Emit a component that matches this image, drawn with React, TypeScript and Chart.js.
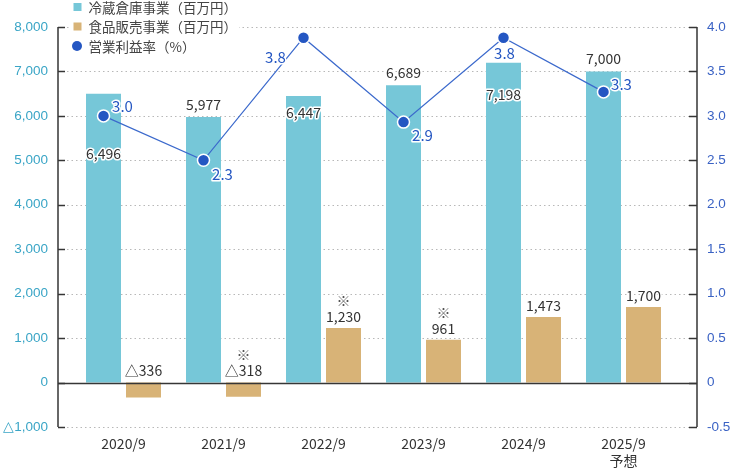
import { useEffect, useRef } from "react";
import { Chart, registerables } from "chart.js";

Chart.register(...registerables);

// ---- data ----
const categories = ["2020/9", "2021/9", "2022/9", "2023/9", "2024/9", "2025/9"];
const categoryNotes = ["", "", "", "", "", "予想"];
const coldStorageSales = [6496, 5977, 6447, 6689, 7198, 7000];
const foodSales = [-336, -318, 1230, 961, 1473, 1700];
const foodSalesNotes = ["", "※", "※", "※", "", ""];
const operatingMargin = [3.0, 2.5, 3.88, 2.93, 3.88, 3.27];
const operatingMarginLabels = ["3.0", "2.3", "3.8", "2.9", "3.8", "3.3"];
const seriesNames = ["冷蔵倉庫事業（百万円）", "食品販売事業（百万円）", "営業利益率（%）"];

// ---- style / placement ----
const CYAN = "#76c7d8";
const TAN = "#d8b377";
const BLUE = "#2456c2";
const LINE_BLUE = "#3b69cc";
const TEXT = "#333333";
const JP = "'Noto Sans CJK JP', 'Noto Sans', sans-serif";
const TICKF = "'Liberation Sans', Arial, sans-serif";
const coldLabelDy = [60, -12, 17, -13, 32, -13];
const marginLabelOffset = [[19, -10], [19, 14], [-28, 20], [19, 13], [1, 16], [18, -8]];
const AXIS_GAP_L = 15.5;
const AXIS_GAP_R = 23.5;

const fmt = (v: number) => Math.abs(v).toLocaleString("en-US");

function haloText(ctx: CanvasRenderingContext2D, s: string, x: number, y: number, color: string) {
  ctx.lineJoin = "round";
  ctx.lineWidth = 3;
  ctx.strokeStyle = "#ffffff";
  ctx.strokeText(s, x, y);
  ctx.fillStyle = color;
  ctx.fillText(s, x, y);
}

const overlay = {
  id: "overlay",
  afterDatasetsUpdate(chart: any) {
    const bars = chart.getDatasetMeta(0).data;
    const pts = chart.getDatasetMeta(2).data;
    pts.forEach((p: any, i: number) => {
      if (bars[i]) p.x = bars[i].x;
    });
  },
  beforeDatasetsDraw(chart: any) {
    const { ctx, chartArea } = chart;
    const yL = chart.scales.y;
    const axL = chartArea.left - AXIS_GAP_L;
    const axR = chartArea.right + AXIS_GAP_R;
    ctx.save();
    ctx.strokeStyle = "#b8b8b8";
    ctx.lineWidth = 1;
    ctx.setLineDash([1.5, 3]);
    yL.ticks.forEach((t: any) => {
      if (t.value === 0) return;
      const y = Math.round(yL.getPixelForValue(t.value)) + 0.5;
      ctx.beginPath();
      ctx.moveTo(axL, y);
      ctx.lineTo(axR, y);
      ctx.stroke();
    });
    ctx.restore();
  },
  afterDatasetsDraw(chart: any) {
    const { ctx, chartArea } = chart;
    const yL = chart.scales.y;
    const yR = chart.scales.y1;
    const axL = chartArea.left - AXIS_GAP_L;
    const axR = chartArea.right + AXIS_GAP_R;
    ctx.save();
    ctx.strokeStyle = "#363636";
    ctx.lineWidth = 1.5;
    // zero line
    const y0 = Math.round(yL.getPixelForValue(0)) + 0.5;
    ctx.beginPath();
    ctx.moveTo(axL, y0);
    ctx.lineTo(axR, y0);
    ctx.stroke();
    // axis lines
    ctx.beginPath();
    ctx.moveTo(axL, chartArea.top);
    ctx.lineTo(axL, chartArea.bottom);
    ctx.moveTo(axR, chartArea.top);
    ctx.lineTo(axR, chartArea.bottom);
    ctx.stroke();
    yL.ticks.forEach((t: any) => {
      const y = Math.round(yL.getPixelForValue(t.value)) + 0.5;
      ctx.beginPath();
      ctx.moveTo(axL, y);
      ctx.lineTo(axL + 7, y);
      ctx.stroke();
    });
    yR.ticks.forEach((t: any) => {
      const y = Math.round(yR.getPixelForValue(t.value)) + 0.5;
      ctx.beginPath();
      ctx.moveTo(axR - 8, y);
      ctx.lineTo(axR, y);
      ctx.stroke();
    });

    // data labels
    ctx.font = `14px ${JP}`;
    ctx.textAlign = "center";
    ctx.textBaseline = "middle";
    const cold = chart.getDatasetMeta(0).data;
    cold.forEach((el: any, i: number) => {
      haloText(ctx, fmt(coldStorageSales[i]), el.x, el.y + coldLabelDy[i], TEXT);
    });
    const food = chart.getDatasetMeta(1).data;
    food.forEach((el: any, i: number) => {
      const v = foodSales[i];
      const top = v < 0 ? el.base : el.y;
      const y = top - 11.5;
      const s = (v < 0 ? "△" : "") + fmt(v);
      haloText(ctx, s, el.x, y, TEXT);
      if (foodSalesNotes[i]) haloText(ctx, foodSalesNotes[i], el.x, y - 16, "#555");
    });
    const pts = chart.getDatasetMeta(2).data;
    ctx.font = `15px ${JP}`;
    pts.forEach((p: any, i: number) => {
      const [dx, dy] = marginLabelOffset[i];
      haloText(ctx, operatingMarginLabels[i], p.x + dx, p.y + dy, BLUE);
    });
    ctx.restore();
  },
  afterDraw(chart: any) {
    const { ctx, chartArea } = chart;
    const x0 = chartArea.left;
    const rows = [7, 26.5, 46];
    ctx.save();
    ctx.font = `13.5px ${JP}`;
    ctx.textBaseline = "middle";
    ctx.textAlign = "left";
    seriesNames.forEach((name, i) => {
      const w = ctx.measureText(name).width;
      ctx.fillStyle = "#ffffff";
      ctx.fillRect(x0 - 3, rows[i] - 8, w + 20, 16);
      if (i < 2) {
        ctx.fillStyle = i === 0 ? CYAN : TAN;
        ctx.fillRect(x0, rows[i] - 4, 8, 8);
      } else {
        ctx.fillStyle = BLUE;
        ctx.beginPath();
        ctx.arc(x0 + 3.5, rows[i], 5, 0, Math.PI * 2);
        ctx.fill();
      }
      ctx.fillStyle = "#444";
      ctx.fillText(name, x0 + 15, rows[i] + 0.5);
    });
    ctx.restore();
  },
};

export default function App() {
  const ref = useRef<HTMLCanvasElement>(null);
  useEffect(() => {
    document.body.style.margin = "0";
    const canvas = ref.current!;
    const chart = new Chart(canvas, {
      type: "bar",
      data: {
        labels: categories.map((c, i) => (categoryNotes[i] ? [c, categoryNotes[i]] : c)) as any,
        datasets: [
          {
            type: "bar",
            label: seriesNames[0],
            data: coldStorageSales,
            backgroundColor: CYAN,
            yAxisID: "y",
            order: 2,
            categoryPercentage: 0.8,
            barPercentage: 0.875,
          },
          {
            type: "bar",
            label: seriesNames[1],
            data: foodSales,
            backgroundColor: TAN,
            yAxisID: "y",
            order: 2,
            categoryPercentage: 0.8,
            barPercentage: 0.875,
          },
          {
            type: "line",
            label: seriesNames[2],
            data: operatingMargin,
            borderColor: LINE_BLUE,
            borderWidth: 1.2,
            backgroundColor: BLUE,
            pointBackgroundColor: BLUE,
            pointBorderColor: "#ffffff",
            pointBorderWidth: 1.5,
            pointRadius: 6,
            yAxisID: "y1",
            order: 0,
            tension: 0,
          } as any,
        ],
      },
      options: {
        responsive: false,
        animation: false,
        layout: { padding: { top: 27, left: 0, right: 0, bottom: 0 } },
        plugins: { legend: { display: false }, tooltip: { enabled: false } },
        scales: {
          x: {
            grid: { display: false, drawTicks: false },
            border: { display: false },
            ticks: { color: TEXT, font: { family: JP, size: 14, lineHeight: 1.2 }, padding: 8, autoSkip: false, maxRotation: 0 },
            afterFit: (s: any) => {
              s.height = 41;
              s.paddingLeft = 0;
              s.paddingRight = 0;
            },
          },
          y: {
            position: "left",
            min: -1000,
            max: 8000,
            grid: { display: false, drawTicks: false },
            border: { display: false },
            ticks: {
              stepSize: 1000,
              color: "#3aa5c6",
              font: { family: TICKF, size: 13.5 },
              padding: 25.5,
              callback: (v: any) => (v < 0 ? "△" : "") + fmt(Number(v)),
            },
            afterFit: (s: any) => {
              s.width = 73.5;
              s.paddingTop = 0;
              s.paddingBottom = 0;
            },
          },
          y1: {
            position: "right",
            min: -0.5,
            max: 4,
            grid: { display: false, drawTicks: false },
            border: { display: false },
            ticks: {
              stepSize: 0.5,
              color: "#3a62c4",
              font: { family: TICKF, size: 13.5 },
              padding: 33.5,
              callback: (v: any) => (Number(v) === 0 ? "0" : Number(v).toFixed(1)),
            },
            afterFit: (s: any) => {
              s.width = 61.5;
              s.paddingTop = 0;
              s.paddingBottom = 0;
            },
          },
        },
      },
      plugins: [overlay],
    });
    return () => chart.destroy();
  }, []);
  return <canvas ref={ref} width={735} height={468} style={{ display: "block" }} />;
}
